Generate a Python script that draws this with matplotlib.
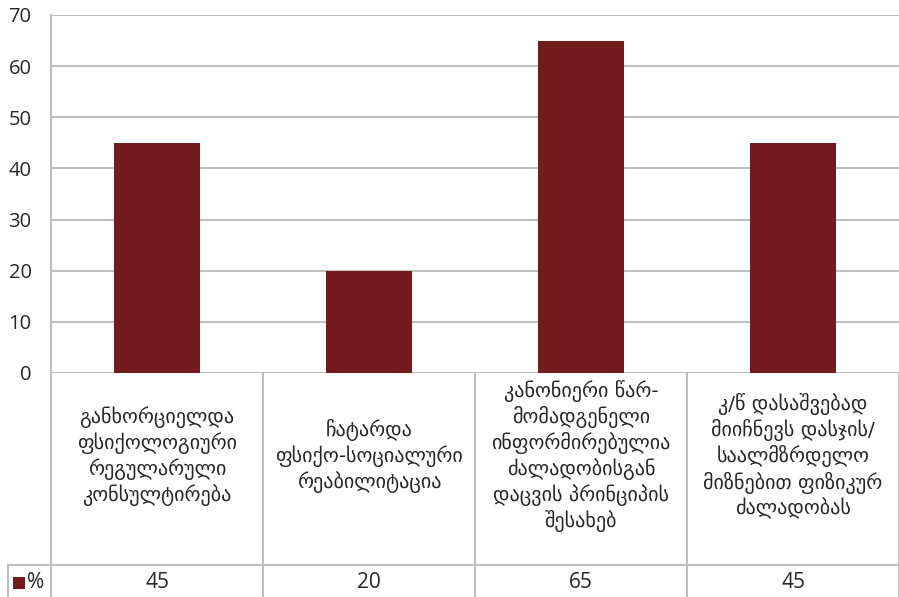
import matplotlib

matplotlib.use("Agg")
import matplotlib.pyplot as plt
from matplotlib.lines import Line2D
from matplotlib.patches import Rectangle
from matplotlib.transforms import blended_transform_factory

# data
categories = [
    "განხორციელდა\nფსიქოლოგიური\nრეგულარული\nკონსულტირება",
    "ჩატარდა\nფსიქო-სოციალური\nრეაბილიტაცია",
    "კანონიერი წარ-\nმომადგენელი\nინფორმირებულია\nძალადობისგან\nდაცვის პრინციპის\nშესახებ",
    "კ/წ დასაშვებად\nმიიჩნევს დასჯის/\nსაალმზრდელო\nმიზნებით ფიზიკურ\nძალადობას",
]
values = [45, 20, 65, 45]
series_name = "%"
y_ticks = [0, 10, 20, 30, 40, 50, 60, 70]

bar_color = "#741B1E"
line_color = "#BFBFBF"
text_color = "#262626"
num_font = ["Open Sans", "DejaVu Sans"]
geo_font = ["DejaVu Sans"]

W, H = 899, 597
fig = plt.figure(figsize=(W / 100, H / 100), dpi=100)
fig.patch.set_facecolor("white")

# axes in pixel geometry
ax_left, ax_right, ax_top, ax_bottom = 51, 899, 15, 373
ax = fig.add_axes([ax_left / W, 1 - ax_bottom / H, (ax_right - ax_left) / W, (ax_bottom - ax_top) / H])

x = list(range(len(values)))
ax.bar(x, values, width=0.405, color=bar_color, zorder=3)
ax.set_xlim(-0.5, len(values) - 0.5)
ax.set_ylim(0, 70)
ax.set_yticks(y_ticks)
ax.set_yticklabels([str(t) for t in y_ticks], fontsize=14.5, color=text_color, family=num_font)
ax.tick_params(axis="y", length=0, pad=14)
ax.set_xticks([])
ax.grid(axis="y", color=line_color, linewidth=1.5)
ax.set_axisbelow(True)
for side in ["top", "right", "bottom"]:
    ax.spines[side].set_visible(False)
ax.spines["left"].set_color(line_color)
ax.spines["left"].set_linewidth(1.5)

# data table below the axes (x in data coords, y in figure pixels)
tr = blended_transform_factory(ax.transData, fig.transFigure)


def fy(py):
    return 1 - py / H


row_sep = 565
# vertical cell borders
for i in range(len(values) + 1):
    ax.add_line(Line2D([i - 0.5, i - 0.5], [fy(ax_bottom), fy(H)], transform=tr,
                       color=line_color, linewidth=1.5, clip_on=False))
# horizontal row separator, extends into legend cell
fig.add_artist(Line2D([8 / W, 1], [fy(row_sep), fy(row_sep)], color=line_color, linewidth=1.5))
fig.add_artist(Line2D([8 / W, 8 / W], [fy(row_sep), 0], color=line_color, linewidth=1.5))

for i, (cat, val) in enumerate(zip(categories, values)):
    ax.text(i, fy(456), cat, transform=tr, ha="center", va="center", fontsize=14.5,
            family=geo_font, color=text_color, linespacing=1.25, clip_on=False)
    ax.text(i, fy(582), str(val), transform=tr, ha="center", va="center", fontsize=15,
            family=num_font, color=text_color, clip_on=False)

# legend key in the table
fig.add_artist(Rectangle((13 / W, fy(589)), 12 / W, 12 / H, transform=fig.transFigure,
                         facecolor=bar_color, edgecolor="none"))
fig.text(27 / W, fy(582), series_name, ha="left", va="center", fontsize=15,
         family=num_font, color=text_color)

fig.savefig("out.png", dpi=100, facecolor="white")
